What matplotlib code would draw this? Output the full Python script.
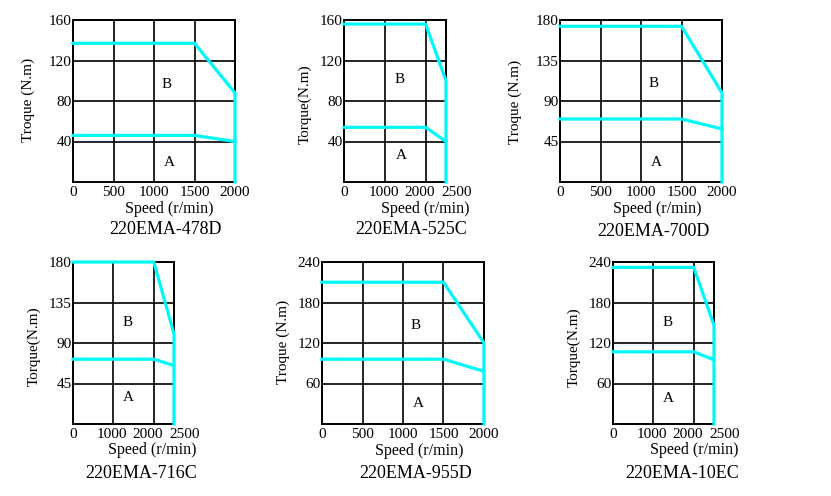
import matplotlib
matplotlib.use("Agg")
import matplotlib.pyplot as plt
import matplotlib.transforms as mtransforms

plt.rcParams['font.family'] = ['Liberation Serif', 'DejaVu Serif']

W, H = 831, 496

# chart data
titles = ['220EMA-478D', '220EMA-525C', '220EMA-700D', '220EMA-716C', '220EMA-955D', '220EMA-10EC']
ylabels = ['Troque (N.m)', 'Torque(N.m)', 'Troque (N.m)', 'Torque(N.m)', 'Troque (N.m)', 'Torque(N.m)']
max_speed = [2000, 2500, 2000, 2500, 2000, 2500]
knee_speed = [1500, 2000, 1500, 2000, 1500, 2000]
torque_max = [160, 160, 180, 180, 240, 240]
yticks = [[40, 80, 120, 160], [40, 80, 120, 160], [45, 90, 135, 180],
          [45, 90, 135, 180], [60, 120, 180, 240], [60, 120, 180, 240]]
xticks_2000 = [0, 500, 1000, 1500, 2000]
xticks_2500 = [0, 1000, 2000, 2500]
b_start = [137, 156, 173, 180, 210, 232]
b_end = [88, 100, 99, 100, 120, 146]
a_start = [46, 54, 70, 72, 96, 107]
a_end = [40, 40, 59, 65, 78, 95]
# region label positions (speed, torque)
b_pos = [(1160, 96), (1355, 101), (1150, 109), (1360, 113), (1160, 146), (1360, 151)]
a_pos = [(1185, 19), (1400, 26), (1185, 22), (1360, 29), (1185, 30), (1360, 38)]

# layout in pixels: axes (left, top, width, height)
axes_px = [(73, 20, 162, 162), (344, 20, 102, 162), (560, 20, 162, 162),
           (73, 262, 101, 162), (322, 262, 162, 162), (613, 262, 101, 162)]
xlabel_px = [(169, 209), (425, 209), (657, 209), (152, 450), (419, 451), (694, 450)]
title_px = [(166, 230), (411, 230), (653, 231), (141, 473), (416, 474), (682, 474)]
ylabel_px = [(28, 100), (305, 104), (515, 102), (34, 346), (283, 342), (574, 347)]

CYAN = '#00f8f8'

fig = plt.figure(figsize=(W / 100, H / 100), dpi=100)

for i in range(6):
    l, t, w, h = axes_px[i]
    ax = fig.add_axes([l / W, 1 - (t + h) / H, w / W, h / H])
    xmax = max_speed[i]
    xt = xticks_2000 if xmax == 2000 else xticks_2500
    ax.set_xlim(0, xmax)
    ax.set_ylim(0, torque_max[i])
    ax.set_xticks(xt)
    ax.set_yticks(yticks[i])
    ax.set_xticklabels([str(v) for v in xt])
    ax.tick_params(length=0, labelsize=11, pad=3)
    ax.tick_params(axis='y', pad=1)
    ax.grid(True, color='black', linewidth=1.2)
    ax.set_axisbelow(True)
    for s in ax.spines.values():
        s.set_linewidth(1.4)

    if xmax == 2500:
        labs = ax.get_xticklabels()
        for lab, dx in zip(labs, [0, -1, -6, 11]):
            lab.set_transform(lab.get_transform() +
                              mtransforms.ScaledTranslation(dx / 100, 0, fig.dpi_scale_trans))

    ks = knee_speed[i]
    ax.plot([0, ks, xmax, xmax], [b_start[i], b_start[i], b_end[i], 0],
            color=CYAN, linewidth=2.3, clip_on=False, zorder=4)
    ax.plot([0, ks, xmax], [a_start[i], a_start[i], a_end[i]],
            color=CYAN, linewidth=2.3, clip_on=False, zorder=4)

    ax.text(b_pos[i][0], b_pos[i][1], 'B', fontsize=11, ha='center', va='center')
    ax.text(a_pos[i][0], a_pos[i][1], 'A', fontsize=11, ha='center', va='center')

    ax.set_xlabel('Speed (r/min)', fontsize=11.5, va='center')
    ax.xaxis.set_label_coords(xlabel_px[i][0] / W, 1 - xlabel_px[i][1] / H, transform=fig.transFigure)
    ax.set_ylabel(ylabels[i], fontsize=11, va='center', ha='center')
    ax.yaxis.set_label_coords(ylabel_px[i][0] / W, 1 - ylabel_px[i][1] / H, transform=fig.transFigure)

    fig.text(title_px[i][0] / W, 1 - title_px[i][1] / H, titles[i],
             fontsize=13, ha='center', va='center')

fig.savefig('out.png', dpi=100)
